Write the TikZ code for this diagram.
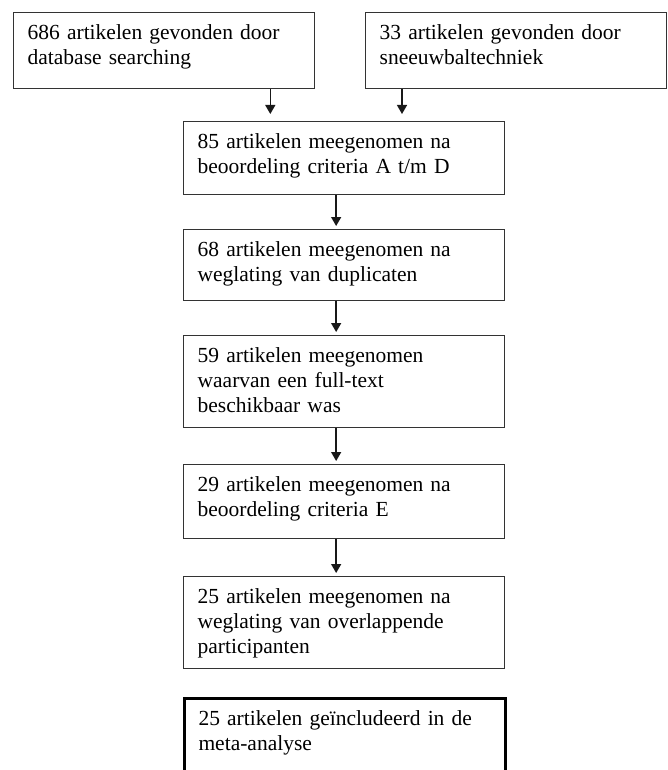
\documentclass[tikz,border=0pt]{standalone}
\usepackage{fontspec}
\setmainfont{Liberation Serif}
\usetikzlibrary{positioning}
\usetikzlibrary{arrows.meta}
\tikzset{
    stapnode/.style = {rectangle, draw=black!80, line width=1.3pt, anchor=north west, align=left, inner xsep=14pt, inner ysep=0pt, text height=27pt, text=black, font=\fontsize{21.5}{25}\selectfont},
    stapnodea/.style = {stapnode, text width=273pt}, % top row
    stapnodeb/.style = {stapnode, text width=293pt}, % middle column
    eindnode/.style = {stapnodeb, draw=black, line width=3pt},
    edgep/.style = {-{Triangle[length=9pt,width=10pt]}, line width=1.4pt, black!90}
}

\begin{document}
\begin{tikzpicture}[x=1pt, y=-1pt]
  \useasboundingbox (0,0) rectangle (668,770);
  \node[stapnodea, text depth=49pt] (b1) at (13,12) {686 artikelen gevonden door\\database searching};
  \node[stapnodea, text depth=49pt] (b2) at (365,12) {33 artikelen gevonden door\\sneeuwbaltechniek};
  \node[stapnodeb, text depth=46pt] (b3) at (183,121) {85 artikelen meegenomen na\\beoordeling criteria A t/m D};
  \node[stapnodeb, text depth=44pt] (b4) at (183,229) {68 artikelen meegenomen na\\weglating van duplicaten};
  \node[stapnodeb, text depth=65pt] (b5) at (183,335) {59 artikelen meegenomen\\waarvan een full-text\\beschikbaar was};
  \node[stapnodeb, text depth=47pt] (b6) at (183,464) {29 artikelen meegenomen na\\beoordeling criteria E};
  \node[stapnodeb, text depth=65pt] (b7) at (183,576) {25 artikelen meegenomen na\\weglating van overlappende\\participanten};
  \node[eindnode, text depth=49pt] (b8) at (183,697) {25 artikelen geïncludeerd in de\\meta-analyse};

  % top row into first selection
  \coordinate (p1) at ([xshift=-45pt]b1.south east);
  \coordinate (p2) at ([xshift=37pt]b2.south west);
  \draw[edgep, shorten >=7pt] (p1) -- (p1 |- b3.north);
  \draw[edgep, shorten >=7pt] (p2) -- (p2 |- b3.north);

  \foreach \a/\b in {b3/b4, b4/b5, b5/b6, b6/b7}
    \draw[edgep, shorten >=3pt] ([xshift=-8pt]\a.south) -- ([xshift=-8pt]\b.north);
\end{tikzpicture}
\end{document}
